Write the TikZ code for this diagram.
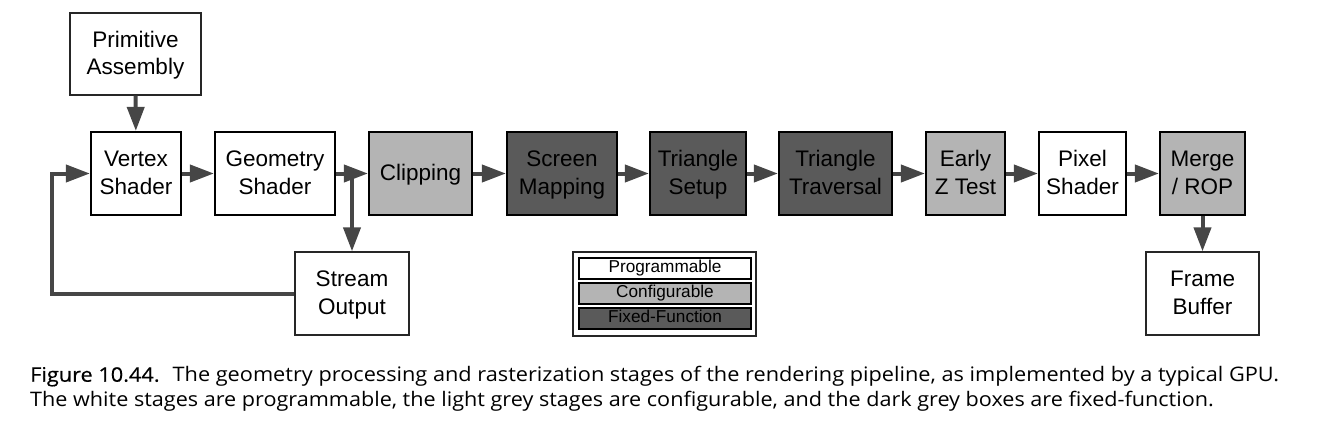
\documentclass[tikz,border=0pt]{standalone}
\usepackage{fontspec}
\setmainfont{Liberation Sans}
\newfontfamily\capfont{Open Sans}
\usetikzlibrary{arrows.meta}
\definecolor{linegray}{HTML}{464646}
\definecolor{lightgray}{HTML}{B4B4B4}
\definecolor{darkgray}{HTML}{5A5A5A}
\newcommand{\boxstrut}{\rule[-5pt]{0pt}{24pt}}
\newcommand{\legstrut}{\rule[-4pt]{0pt}{15pt}}
\newcommand{\twol}[2]{\boxstrut #1\\\boxstrut #2}
\tikzset{
  stage/.style={draw=black, line width=2.2pt, inner sep=0pt, align=center,
    minimum height=83pt, font=\fontsize{22.5}{27.6}\selectfont},
  sidebox/.style={draw=black!85, line width=1.3pt, inner sep=0pt, align=center,
    minimum height=83pt, font=\fontsize{22.5}{27.6}\selectfont},
  prog/.style={fill=white},
  conf/.style={fill=lightgray},
  fixed/.style={fill=darkgray},
  legrow/.style={draw=black, line width=1.2pt, inner sep=0pt, minimum width=172pt,
    minimum height=21pt, font=\fontsize{17.2}{19}\selectfont},
  flow/.style={draw=linegray, line width=4pt, -{Triangle[length=24pt,width=17pt]}},
  captext/.style={anchor=base west, inner sep=0pt, font=\capfont\fontsize{20}{24}\selectfont}
}
\begin{document}
\begin{tikzpicture}[x=1pt,y=-1pt]
\useasboundingbox (0,0) rectangle (1327,441);
% stages
\node[sidebox, prog, minimum width=131pt, minimum height=82pt] (prim) at (135.5,54) {\twol{Primitive}{Assembly}};
\node[stage, prog, minimum width=90pt] (vs) at (136,173.5) {\twol{Vertex}{Shader}};
\node[stage, prog, minimum width=120pt] (gs) at (275,173.5) {\twol{Geometry}{Shader}};
\node[stage, conf, minimum width=103pt] (clip) at (420.5,173.5) {\boxstrut Clipping};
\node[stage, fixed, minimum width=110pt] (sm) at (562,173.5) {\twol{Screen}{Mapping}};
\node[stage, fixed, minimum width=96pt] (ts) at (698,173.5) {\twol{Triangle}{Setup}};
\node[stage, fixed, minimum width=113pt] (tt) at (835.5,173.5) {\twol{Triangle}{Traversal}};
\node[stage, conf, minimum width=79pt] (ez) at (965.5,173.5) {\twol{Early}{Z Test}};
\node[stage, prog, minimum width=87pt] (ps) at (1082.5,173.5) {\twol{Pixel}{Shader}};
\node[stage, conf, minimum width=85pt] (mr) at (1202.5,173.5) {\twol{Merge}{/ ROP}};
\node[sidebox, prog, minimum width=113pt] (fb) at (1202.5,293.5) {\twol{Frame}{Buffer}};
\node[sidebox, prog, minimum width=114pt] (so) at (352,293.5) {\twol{Stream}{Output}};
% legend
\node[draw=black!85, line width=1.2pt, minimum width=183pt, minimum height=84pt, inner sep=0pt] (leg) at (664.5,294) {};
\node[legrow, prog] (lp) at (665,268.5) {\legstrut Programmable};
\node[legrow, conf] (lc) at (665,293.5) {\legstrut Configurable};
\node[legrow, fixed] (lf) at (665,318.5) {\legstrut Fixed-Function};
% connectors
\coordinate (jn) at (gs.east -| so.north);
\coordinate (loop) at (52,293.5);
\draw[flow] (prim) -- (vs);
\draw[flow] (vs) -- (gs);
\draw[flow] (gs) -- (clip);
\draw[flow] (jn) -- (so.north);
\draw[flow] (clip) -- (sm);
\draw[flow] (sm) -- (ts);
\draw[flow] (ts) -- (tt);
\draw[flow] (tt) -- (ez);
\draw[flow] (ez) -- (ps);
\draw[flow] (ps) -- (mr);
\draw[flow] (mr) -- (fb);
\draw[flow] (so.west) -- (loop) |- (vs.west);
% caption
\node[captext] (c1) at (30,381.7) {\scalebox{1.086}[1]{{\addfontfeature{FakeBold=0.5}Figure 10.44.}\hspace{0.6em}The geometry processing and rasterization stages of the rendering pipeline, as implemented by a typical GPU.}};
\node[captext] (c2) at (30,406) {\scalebox{1.08}[1]{The white stages are programmable, the light grey stages are configurable, and the dark grey boxes are fixed-function.}};
\end{tikzpicture}
\end{document}
